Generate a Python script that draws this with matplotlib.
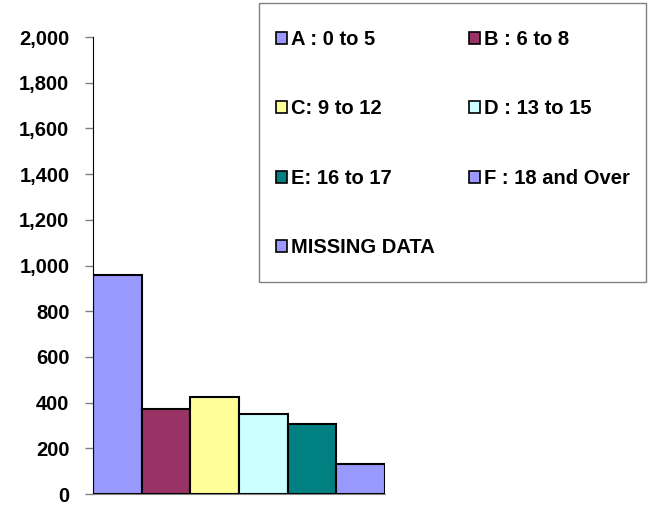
import matplotlib
matplotlib.use("Agg")
import matplotlib.pyplot as plt
from matplotlib.patches import Patch, Rectangle
from matplotlib.ticker import StrMethodFormatter

plt.rcParams['font.family'] = ['Liberation Sans', 'DejaVu Sans']
plt.rcParams['font.weight'] = 'bold'

# data
groups = ["A : 0 to 5", "B : 6 to 8", "C: 9 to 12", "D : 13 to 15",
          "E: 16 to 17", "F : 18 and Over", "MISSING DATA"]
counts = [960, 370, 425, 350, 305, 130, 0]
colors = ["#9999FF", "#993366", "#FFFF99", "#CCFFFF",
          "#008080", "#9999FF", "#9999FF"]

fig = plt.figure(figsize=(6.52, 5.08), dpi=100)
ax = fig.add_axes([93 / 652, 14 / 508, (385 - 93) / 652, (494 - 37) / 508])

for i, (g, v, c) in enumerate(zip(groups, counts, colors)):
    ax.bar(i, v, width=1, align="edge", color=c, edgecolor="black",
           linewidth=1.5, label=g)

ax.set_xlim(0, 6)
ax.set_ylim(0, 2000)
ax.set_yticks(range(0, 2001, 200))
ax.yaxis.set_major_formatter(StrMethodFormatter("{x:,.0f}"))
ax.set_xticks([])
ax.tick_params(axis="y", length=6, width=1, color="#808080", pad=11,
               labelsize=14.5)
for lab in ax.get_yticklabels():
    lab.set_fontweight("bold")
ax.spines["top"].set_visible(False)
ax.spines["right"].set_visible(False)
ax.spines["left"].set_color("black")
ax.spines["bottom"].set_color("#808080")

# legend, filled column-wise so reorder for row layout
handles = [Patch(facecolor=c, edgecolor="black", linewidth=1.2) for c in colors]
order = [0, 2, 4, 6, 1, 3, 5]
leg = fig.legend([handles[i] for i in order], [groups[i] for i in order],
                 ncol=2, frameon=False, loc="upper left",
                 bbox_to_anchor=(276 / 652, 1 - 30 / 508),
                 borderpad=0, borderaxespad=0,
                 prop={"size": 14.5, "weight": "bold"},
                 handlelength=0.55, handleheight=0.55, handletextpad=0.2,
                 labelspacing=2.5, columnspacing=1.7)

fig.patches.append(Rectangle((259 / 652, 1 - 282 / 508), 387 / 652, 279 / 508,
                             transform=fig.transFigure, fill=False,
                             edgecolor="#808080", linewidth=1))

fig.savefig("out.png", dpi=100)
